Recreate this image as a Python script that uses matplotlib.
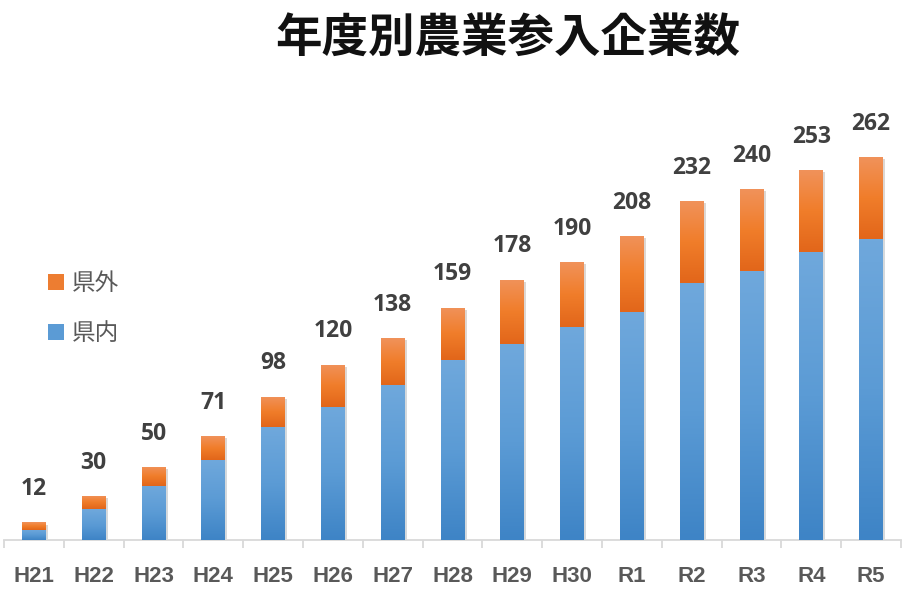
import numpy as np
import matplotlib
matplotlib.use("Agg")
import matplotlib.pyplot as plt
from matplotlib.colors import LinearSegmentedColormap
from matplotlib.patches import Patch
import matplotlib.patheffects as pe

plt.rcParams['font.family'] = ['Noto Sans CJK JP', 'DejaVu Sans']

# data
years = ['H21', 'H22', 'H23', 'H24', 'H25', 'H26', 'H27', 'H28',
         'H29', 'H30', 'R1', 'R2', 'R3', 'R4', 'R5']
totals = [12, 30, 50, 71, 98, 120, 138, 159, 178, 190, 208, 232, 240, 253, 262]
kennai = [7, 21, 37, 55, 77, 91, 106, 123, 134, 146, 156, 176, 184, 197, 206]
kengai = [t - k for t, k in zip(totals, kennai)]

blue_cmap = LinearSegmentedColormap.from_list('b', ['#3e84c6', '#5b9bd5', '#6fa8dc'])
orange_cmap = LinearSegmentedColormap.from_list('o', ['#e2661a', '#f07d2a', '#f1925a'])

fig = plt.figure(figsize=(9.15, 5.99), dpi=100)
ax = fig.add_axes([4/915, 59/599, 897/915, 440/599])

x = np.arange(len(years))
shadow = [pe.SimplePatchShadow(offset=(1.5, -1.5), alpha=0.18), pe.Normal()]
b1 = ax.bar(x, kennai, width=0.4, color='#5b9bd5', zorder=2, path_effects=shadow)
b2 = ax.bar(x, kengai, width=0.4, bottom=kennai, color='#ed7d31', zorder=2,
            path_effects=shadow)

# vertical gradient inside each bar segment
grad = np.linspace(0, 1, 100).reshape(-1, 1)
for cont, cm in [(b1, blue_cmap), (b2, orange_cmap)]:
    for p in cont.patches:
        x0, y0 = p.get_x(), p.get_y()
        w, h = p.get_width(), p.get_height()
        im = ax.imshow(grad, extent=[x0, x0 + w, y0, y0 + h], origin='lower',
                       aspect='auto', cmap=cm, zorder=3)
        im.set_clip_path(p)

for xi, t in zip(x, totals):
    ax.annotate(str(t), (xi, t), xytext=(0, 24), textcoords='offset points',
                ha='center', va='center', fontsize=16.5, fontweight='bold',
                family=['Open Sans', 'DejaVu Sans'], color='#404040')

ax.set_xlim(-0.5, len(years) - 0.5)
ax.set_ylim(0, 301)

for s in ['top', 'right', 'left']:
    ax.spines[s].set_visible(False)
ax.spines['bottom'].set_color('#d9d9d9')
ax.spines['bottom'].set_linewidth(1.3)
ax.set_yticks([])

ax.set_xticks(x)
ax.set_xticklabels(years, fontsize=16, fontweight='bold',
                   family=['Liberation Sans', 'DejaVu Sans'], color='#595959')
ax.tick_params(axis='x', which='major', length=0, pad=19)
ax.set_xticks(np.arange(-0.5, len(years)), minor=True)
ax.tick_params(axis='x', which='minor', length=6, width=1.3, color='#d9d9d9')

handles = [Patch(facecolor='#ed7d31', label='県外'),
           Patch(facecolor='#5b9bd5', label='県内')]
leg = fig.legend(handles=handles, loc='upper left', bbox_to_anchor=(27/915, 1 - 251/599),
                 frameon=False, fontsize=17, handlelength=0.65, handleheight=0.65,
                 handletextpad=0.35, labelspacing=1.15)
for t in leg.get_texts():
    t.set_color('#595959')

fig.text(508/915, 1 - 38/599, '年度別農業参入企業数', ha='center', va='center',
         fontsize=33.5, fontweight='bold', color='#111111')

fig.savefig('out.png', dpi=100)
